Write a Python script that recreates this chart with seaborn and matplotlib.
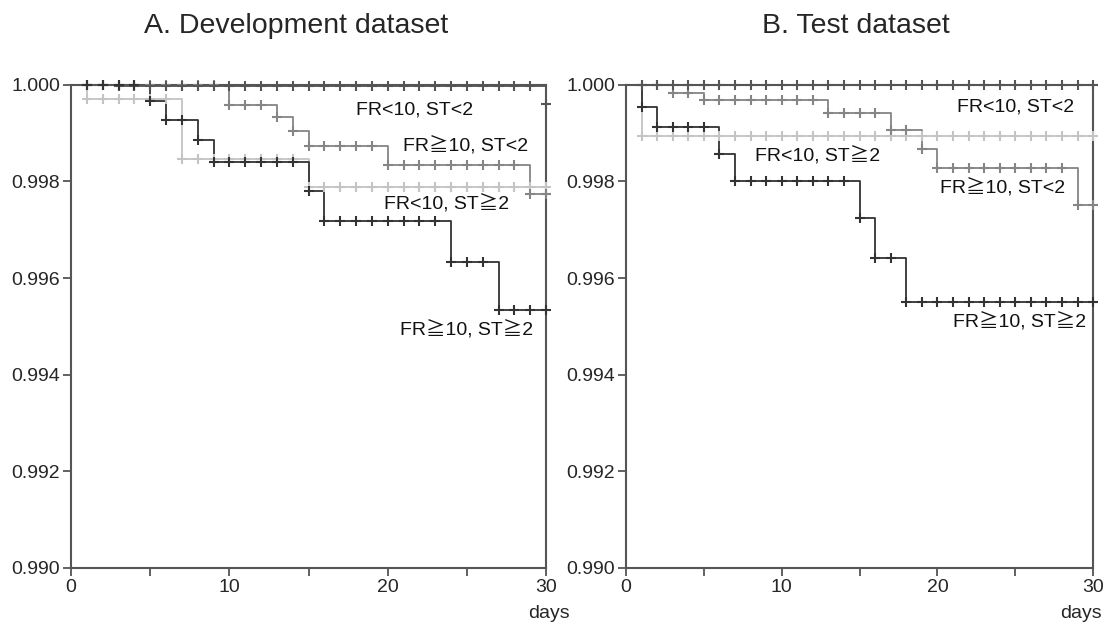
import numpy as np
import pandas as pd
import matplotlib
matplotlib.use("Agg")
import matplotlib.pyplot as plt
import seaborn as sns

# survival estimates, one value per day (day 0..30)
days = list(range(0, 31))

dev_lo_lo = [1.0] * 3 + [0.99998] * 27 + [0.9996]
dev_hi_lo = ([1.0] * 10 + [0.99959] * 3 + [0.99933] + [0.99905]
             + [0.99874] * 5 + [0.99835] * 9 + [0.99773] * 2)
dev_lo_hi = [1.0] + [0.99971] * 6 + [0.99847] * 8 + [0.99789] * 16
dev_hi_hi = ([1.0] * 5 + [0.99966] + [0.99928] * 2 + [0.99885]
             + [0.99840] * 6 + [0.99780] + [0.99718] * 8
             + [0.99634] * 3 + [0.99533] * 4)

test_lo_lo = [1.0] * 31
test_hi_lo = ([1.0] * 3 + [0.99983] * 2 + [0.99969] * 8 + [0.99941] * 4
              + [0.99907] * 2 + [0.99867] + [0.99828] * 9 + [0.99752] * 2)
test_lo_hi = [1.0] + [0.99895] * 30
test_hi_hi = ([1.0] + [0.99954] + [0.99912] * 4 + [0.99857]
              + [0.99801] * 8 + [0.99724] + [0.99641] * 2 + [0.99551] * 13)

group_names = ["FR<10, ST≧2", "FR≧10, ST<2", "FR<10, ST<2", "FR≧10, ST≧2"]
group_colors = ["#c4c4c4", "#858585", "#555555", "#333333"]

# label anchor positions (day, survival) for each panel
dev_label_pos = [(23.7, 0.99753), (24.9, 0.99872), (21.7, 0.99948), (25.0, 0.99491)]
test_label_pos = [(12.3, 0.99852), (24.2, 0.99785), (25.0, 0.99954), (25.3, 0.99509)]

sns.set_style("ticks")
plt.rcParams["font.family"] = ["Liberation Sans", "Noto Sans CJK JP", "DejaVu Sans"]

fig = plt.figure(figsize=(11.12, 6.33), dpi=100)
ax_a = fig.add_axes([0.064, 0.103, 0.427, 0.763])
ax_b = fig.add_axes([0.563, 0.103, 0.420, 0.763])


def draw_panel(ax, curves, label_pos, title, title_x, days_x):
    for vals, name, col in zip(curves, group_names, group_colors):
        df = pd.DataFrame({"day": days, "surv": vals})
        sns.lineplot(data=df, x="day", y="surv", ax=ax, color=col,
                     drawstyle="steps-post", linewidth=1.3, clip_on=False)
        # censoring ticks at every day
        sns.scatterplot(data=df[df["day"] > 0], x="day", y="surv", ax=ax,
                        color=col, marker="+", s=50, linewidth=1.5,
                        clip_on=False, zorder=3)
    for (x, y), name in zip(label_pos, group_names):
        ax.text(x, y, name, fontsize=14, ha="center", va="center", color="#111111")

    ax.set_xlim(0, 30)
    ax.set_ylim(0.990, 1.000)
    ax.set_xticks([0, 10, 20, 30])
    ax.set_xticks([5, 15, 25], minor=True)
    ax.set_yticks(np.arange(0.990, 1.0001, 0.002))
    ax.yaxis.set_major_formatter(matplotlib.ticker.FormatStrFormatter("%.3f"))
    ax.tick_params(axis="both", which="both", length=6, width=1.3,
                   color="#555555", labelsize=14, pad=2)
    for sp in ax.spines.values():
        sp.set_visible(True)
        sp.set_color("#555555")
        sp.set_linewidth(1.5)
    ax.set_xlabel("")
    ax.set_ylabel("")
    ax.text(days_x, -0.095, "days", transform=ax.transAxes, fontsize=14,
            ha="center", va="center")
    fig.text(title_x, 1 - 26 / 633, title, fontsize=20.5, ha="center", va="center")


draw_panel(ax_a, [dev_lo_hi, dev_hi_lo, dev_lo_lo, dev_hi_hi], dev_label_pos,
           "A. Development dataset", 296 / 1112, 1.006)
draw_panel(ax_b, [test_lo_hi, test_hi_lo, test_lo_lo, test_hi_hi], test_label_pos,
           "B. Test dataset", 856 / 1112, 0.974)

fig.savefig("out.png", dpi=100)
